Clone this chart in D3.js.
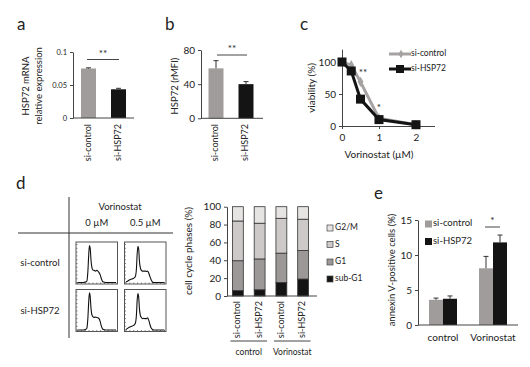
<!DOCTYPE html>
<html><head><meta charset="utf-8">
<script src="https://cdn.jsdelivr.net/npm/d3@7"></script>
<style>
body{margin:0;background:#fff}
svg{display:block}
text{font-family:Lato,"Open Sans",sans-serif;fill:#222}
</style>
</head><body><svg id="fig" width="530" height="367"></svg>
<script>
// ---------- data ----------
const sampleGroups = ["si-control", "si-HSP72"];
const mrnaValues = [0.075, 0.0435];
const mrnaErrors = [0.001, 0.0015];
const mrnaTicks = [0, 0.05, 0.1];
const mfiValues = [58.5, 40];
const mfiErrors = [9, 3];
const mfiTicks = [0, 40, 80];

const doses = [0, 0.25, 0.5, 1, 2];
const viabilityControl = [100, 95, 69, 12, 2];
const viabilityHSP72 = [100, 86, 42, 10, 2];
const doseTicks = [0, 1, 2];
const viabilityTicks = [0, 50, 100];

const histColumns = ["0 µM", "0.5 µM"];
const histRows = ["si-control", "si-HSP72"];
const histBins = [0,0.05,0.1,0.15,0.2,0.24,0.27,0.29,0.31,0.33,0.35,0.37,0.4,0.43,0.46,0.5,0.53,0.56,0.59,0.62,0.65,0.68,0.72,0.8,1.0];
const histCtrl0 = [0,0,0,0,0.01,0.03,0.3,0.7,0.97,0.9,0.6,0.42,0.33,0.32,0.3,0.32,0.3,0.26,0.2,0.1,0.03,0.01,0,0,0];
const histCtrl05 = [0.01,0.04,0.07,0.09,0.11,0.15,0.35,0.75,0.95,0.88,0.55,0.4,0.32,0.3,0.3,0.3,0.29,0.3,0.25,0.16,0.08,0.02,0,0,0];
const histHsp0 = [0,0,0,0,0.01,0.04,0.32,0.72,0.98,0.88,0.58,0.42,0.35,0.33,0.34,0.33,0.32,0.3,0.22,0.1,0.03,0.01,0,0,0];
const histHsp05 = [0.01,0.05,0.08,0.1,0.12,0.17,0.38,0.78,0.96,0.86,0.55,0.4,0.33,0.3,0.31,0.3,0.3,0.32,0.26,0.15,0.06,0.02,0,0,0];

const cycleBars = ["si-control", "si-HSP72", "si-control", "si-HSP72"];
const cycleTreatments = ["control", "Vorinostat"];
const phaseNames = ["sub-G1", "G1", "S", "G2/M"];
const subG1 = [6, 7, 15, 19];
const g1 = [33.5, 34.5, 33, 32];
const sPhase = [44.5, 40, 39, 35];
const g2m = [16, 18.5, 13, 14];
const cycleTicks = [0, 20, 40, 60, 80, 100];

const annexinGroups = ["control", "Vorinostat"];
const annexinControl = [3.6, 8.1];
const annexinControlErr = [0.25, 1.7];
const annexinHSP72 = [3.75, 11.8];
const annexinHSP72Err = [0.4, 1.05];
const annexinTicks = [0, 5, 10, 15];

// ---------- drawing ----------
const svg = d3.select("#fig");
const GRAY = "#a19c9c", BLACK = "#141414", AX = "#444";

function letter(t, x, y){ svg.append("text").attr("x",x).attr("y",y).attr("font-size",17).text(t); }
function yAxis(g, scale, ticks, fmt, fs){
  const a = g.call(d3.axisLeft(scale).tickValues(ticks).tickSize(3).tickSizeOuter(0).tickFormat(fmt));
  a.select(".domain").attr("stroke",AX);
  a.selectAll(".tick line").attr("stroke",AX);
  a.selectAll(".tick text").attr("font-family","Lato,sans-serif").attr("font-size",fs).attr("fill","#222");
}
function hline(x1,x2,y){ svg.append("line").attr("x1",x1).attr("x2",x2).attr("y1",y).attr("y2",y).attr("stroke",AX).attr("stroke-width",1); }
function errBar(x, y1, y2, cap){
  svg.append("line").attr("x1",x).attr("x2",x).attr("y1",y1).attr("y2",y2).attr("stroke","#333").attr("stroke-width",1);
  svg.append("line").attr("x1",x-cap).attr("x2",x+cap).attr("y1",y2).attr("y2",y2).attr("stroke","#333").attr("stroke-width",1);
}
function rotLabel(t, x, y, fs){
  svg.append("text").attr("transform",`translate(${x},${y}) rotate(-90)`).attr("text-anchor","end")
    .attr("dominant-baseline","middle").attr("font-size",fs).text(t);
}
function sig(x1,x2,y,txt){
  hline(x1,x2,y);
  svg.append("text").attr("x",(x1+x2)/2).attr("y",y-3).attr("text-anchor","middle").attr("font-size",10).text(txt);
}

// ---- panel a ----
letter("a", 17, 30);
{
  const y = d3.scaleLinear().domain([0,0.1]).range([118,52]);
  const x = d3.scaleBand().domain(sampleGroups).range([73.5,133.5]).paddingInner(0.5).paddingOuter(0.25);
  yAxis(svg.append("g").attr("transform","translate(73,0)"), y, mrnaTicks, d=>d===0?"0":String(d), 7.5);
  svg.selectAll(".ba").data(sampleGroups).enter().append("rect")
    .attr("x",d=>x(d)).attr("width",x.bandwidth())
    .attr("y",(d,i)=>y(mrnaValues[i])).attr("height",(d,i)=>y(0)-y(mrnaValues[i]))
    .attr("fill",(d,i)=>i?BLACK:GRAY);
  sampleGroups.forEach((d,i)=>errBar(x(d)+x.bandwidth()/2, y(mrnaValues[i]), y(mrnaValues[i]+mrnaErrors[i]), 2.5));
  hline(73,134,118);
  sig(87,119,59.5,"**");
  sampleGroups.forEach(d=>rotLabel(d, x(d)+x.bandwidth()/2, 124, 9));
  svg.append("text").attr("transform","translate(29,86) rotate(-90)").attr("text-anchor","middle").attr("font-size",9.5).text("HSP72 mRNA");
  svg.append("text").attr("transform","translate(42,86) rotate(-90)").attr("text-anchor","middle").attr("font-size",9.5).text("relative expression");
}

// ---- panel b ----
letter("b", 165, 30);
{
  const y = d3.scaleLinear().domain([0,80]).range([118.3,50]);
  const x = d3.scaleBand().domain(sampleGroups).range([201,261]).paddingInner(0.5).paddingOuter(0.25);
  yAxis(svg.append("g").attr("transform","translate(201,0)"), y, mfiTicks, d=>d, 10);
  svg.selectAll(".bb").data(sampleGroups).enter().append("rect")
    .attr("x",d=>x(d)).attr("width",x.bandwidth())
    .attr("y",(d,i)=>y(mfiValues[i])).attr("height",(d,i)=>y(0)-y(mfiValues[i]))
    .attr("fill",(d,i)=>i?BLACK:GRAY);
  sampleGroups.forEach((d,i)=>errBar(x(d)+x.bandwidth()/2, y(mfiValues[i]), y(mfiValues[i]+mfiErrors[i]), 2.5));
  hline(201,263,118.3);
  sig(217,247,55,"**");
  sampleGroups.forEach(d=>rotLabel(d, x(d)+x.bandwidth()/2, 124, 9));
  svg.append("text").attr("transform","translate(178,86) rotate(-90)").attr("text-anchor","middle").attr("font-size",9.5).text("HSP72 (rMFI)");
}

// ---- panel c ----
letter("c", 300, 30);
{
  const x = d3.scaleLinear().domain([0,2.5]).range([342,434.5]);
  const y = d3.scaleLinear().domain([0,120]).range([126,49.2]);
  yAxis(svg.append("g").attr("transform","translate(342,0)"), y, viabilityTicks, d=>d, 10);
  const xa = svg.append("g").attr("transform","translate(0,126)")
    .call(d3.axisBottom(x).tickValues(doseTicks).tickSize(3).tickSizeOuter(0).tickFormat(d=>d));
  xa.select(".domain").attr("stroke",AX);
  xa.selectAll(".tick line").attr("stroke",AX);
  xa.selectAll(".tick text").attr("font-family","Lato,sans-serif").attr("font-size",10).attr("fill","#222").attr("dy","0.9em");
  const line = d3.line().x((d,i)=>x(doses[i])).y(d=>y(d));
  svg.append("path").attr("d",line(viabilityControl)).attr("fill","none").attr("stroke","#a6a2a2").attr("stroke-width",3);
  svg.selectAll(".mc").data(viabilityControl).enter().append("path")
    .attr("d",d3.symbol(d3.symbolDiamond,30)()).attr("transform",(d,i)=>`translate(${x(doses[i])},${y(d)})`).attr("fill","#a6a2a2");
  svg.append("path").attr("d",line(viabilityHSP72)).attr("fill","none").attr("stroke",BLACK).attr("stroke-width",3);
  svg.selectAll(".mh").data(viabilityHSP72).enter().append("rect")
    .attr("x",(d,i)=>x(doses[i])-4.5).attr("y",d=>y(d)-4.5).attr("width",9).attr("height",9).attr("fill",BLACK);
  svg.append("text").attr("x",363).attr("y",76).attr("text-anchor","middle").attr("font-size",10).text("**");
  svg.append("text").attr("x",379).attr("y",111).attr("text-anchor","middle").attr("font-size",10).text("*");
  // legend
  svg.append("line").attr("x1",389).attr("x2",411).attr("y1",54).attr("y2",54).attr("stroke","#a6a2a2").attr("stroke-width",3);
  svg.append("path").attr("d",d3.symbol(d3.symbolDiamond,22)()).attr("transform","translate(401,54)").attr("fill","#a6a2a2");
  svg.append("text").attr("x",411).attr("y",54).attr("dominant-baseline","middle").attr("font-size",8.5).text("si-control");
  svg.append("line").attr("x1",389).attr("x2",411).attr("y1",69).attr("y2",69).attr("stroke",BLACK).attr("stroke-width",3);
  svg.append("rect").attr("x",396).attr("y",65).attr("width",8).attr("height",8).attr("fill",BLACK);
  svg.append("text").attr("x",411).attr("y",69).attr("dominant-baseline","middle").attr("font-size",8.5).text("si-HSP72");
  svg.append("text").attr("x",379).attr("y",158).attr("text-anchor","middle").attr("font-size",10).text("Vorinostat (µM)");
  svg.append("text").attr("transform","translate(315,88) rotate(-90)").attr("text-anchor","middle").attr("font-size",10).text("viability (%)");
}

// ---- panel d : histograms table ----
letter("d", 16, 189);
{
  svg.append("line").attr("x1",69).attr("x2",69).attr("y1",197).attr("y2",338).attr("stroke","#333");
  svg.append("line").attr("x1",18).attr("x2",173).attr("y1",233).attr("y2",233).attr("stroke","#333");
  svg.append("text").attr("x",120).attr("y",210).attr("text-anchor","middle").attr("font-size",9.5).text("Vorinostat");
  const colX = [76, 124.5], rowY = [242, 289.5], bw = 41.5, bh = 42;
  histColumns.forEach((c,i)=>svg.append("text").attr("x",colX[i]+bw/2).attr("y",226).attr("text-anchor","middle").attr("font-size",9.5).text(c));
  histRows.forEach((r,i)=>svg.append("text").attr("x",40).attr("y",rowY[i]+bh/2+3).attr("text-anchor","middle").attr("font-size",9.5).text(r));
  const hists = [[histCtrl0, histCtrl05],[histHsp0, histHsp05]];
  histRows.forEach((r,ri)=>histColumns.forEach((c,ci)=>{
    const x0 = colX[ci], y0 = rowY[ri];
    const g = svg.append("g");
    g.append("rect").attr("x",x0).attr("y",y0).attr("width",bw).attr("height",bh).attr("fill","none").attr("stroke","#555").attr("stroke-width",1);
    const hx = d3.scaleLinear().domain([0,1]).range([x0+1.5,x0+bw-1.5]);
    const hy = d3.scaleLinear().domain([0,1]).range([y0+bh-1.5,y0+2.5]);
    d3.range(0,1.001,0.1).forEach(t=>{
      g.append("line").attr("x1",hx(t)).attr("x2",hx(t)).attr("y1",y0+bh).attr("y2",y0+bh-1.5).attr("stroke","#555").attr("stroke-width",0.7);
      g.append("line").attr("x1",x0).attr("x2",x0+1.5).attr("y1",hy(t)).attr("y2",hy(t)).attr("stroke","#555").attr("stroke-width",0.7);
    });
    const ln = d3.line().x((d,i)=>hx(histBins[i])).y(d=>hy(d)).curve(d3.curveMonotoneX);
    g.append("path").attr("d",ln(hists[ri][ci])).attr("fill","none").attr("stroke","#111").attr("stroke-width",1.1);
  }));
}

// ---- panel d : stacked bars ----
{
  const y = d3.scaleLinear().domain([0,100]).range([296,206.7]);
  const x = d3.scaleBand().domain(d3.range(cycleBars.length)).range([227,314]).paddingInner(0.5).paddingOuter(0.25);
  yAxis(svg.append("g").attr("transform","translate(227,0)"), y, cycleTicks, d=>d, 10);
  const rows = cycleBars.map((b,i)=>({i, "sub-G1":subG1[i], "G1":g1[i], "S":sPhase[i], "G2/M":g2m[i]}));
  const stack = d3.stack().keys(phaseNames)(rows);
  const col = d3.scaleOrdinal().domain(phaseNames).range(["#141414","#9d9898","#cdc9c9","#e6e3e3"]);
  stack.forEach(layer=>{
    svg.selectAll(null).data(layer).enter().append("rect")
      .attr("x",d=>x(d.data.i)).attr("width",x.bandwidth())
      .attr("y",d=>y(d[1])).attr("height",d=>y(d[0])-y(d[1]))
      .attr("fill",col(layer.key)).attr("stroke","#333").attr("stroke-width",0.8);
  });
  hline(227,317,296);
  cycleBars.forEach((b,i)=>rotLabel(b, x(i)+x.bandwidth()/2, 301, 9));
  cycleTreatments.forEach((t,k)=>{
    const xa = x(2*k)-2, xb = x(2*k+1)+x.bandwidth()+2;
    hline(xa,xb,341);
    svg.append("text").attr("x",(xa+xb)/2).attr("y",355).attr("text-anchor","middle").attr("font-size",8.5).text(t);
  });
  svg.append("text").attr("transform","translate(192,251) rotate(-90)").attr("text-anchor","middle").attr("font-size",10).text("cell cycle phases (%)");
  const legY = [279, 262, 244.5, 228];
  phaseNames.forEach((p,i)=>{
    svg.append("rect").attr("x",327).attr("y",legY[i]-3).attr("width",6).attr("height",6).attr("fill",col(p)).attr("stroke","#444").attr("stroke-width",0.7);
    svg.append("text").attr("x",335).attr("y",legY[i]).attr("dominant-baseline","middle").attr("font-size",8.5).text(p);
  });
}

// ---- panel e ----
letter("e", 374, 199);
{
  const y = d3.scaleLinear().domain([0,15]).range([325,220]);
  const x = d3.scaleBand().domain(annexinGroups).range([418,518]).paddingInner(0.44).paddingOuter(0.22);
  const half = x.bandwidth()/2;
  yAxis(svg.append("g").attr("transform","translate(418,0)"), y, annexinTicks, d=>d, 10);
  annexinGroups.forEach((g,i)=>{
    svg.append("rect").attr("x",x(g)).attr("width",half).attr("y",y(annexinControl[i])).attr("height",y(0)-y(annexinControl[i])).attr("fill",GRAY);
    svg.append("rect").attr("x",x(g)+half).attr("width",half).attr("y",y(annexinHSP72[i])).attr("height",y(0)-y(annexinHSP72[i])).attr("fill",BLACK);
    errBar(x(g)+half/2, y(annexinControl[i]), y(annexinControl[i]+annexinControlErr[i]), 2.5);
    errBar(x(g)+half*1.5, y(annexinHSP72[i]), y(annexinHSP72[i]+annexinHSP72Err[i]), 2.5);
    svg.append("text").attr("x",x(g)+half).attr("y",341).attr("text-anchor","middle").attr("font-size",10).text(g);
  });
  hline(418,518,325);
  sig(485,500,227,"*");
  svg.append("rect").attr("x",425).attr("y",220.5).attr("width",7).attr("height",7).attr("fill",GRAY);
  svg.append("text").attr("x",433).attr("y",224).attr("dominant-baseline","middle").attr("font-size",9.5).text("si-control");
  svg.append("rect").attr("x",425).attr("y",238).attr("width",7).attr("height",7).attr("fill",BLACK);
  svg.append("text").attr("x",433).attr("y",241.5).attr("dominant-baseline","middle").attr("font-size",9.5).text("si-HSP72");
  svg.append("text").attr("transform","translate(395,270) rotate(-90)").attr("text-anchor","middle").attr("font-size",9.5).text("annexin V-positive cells (%)");
}
</script>
</body></html>
